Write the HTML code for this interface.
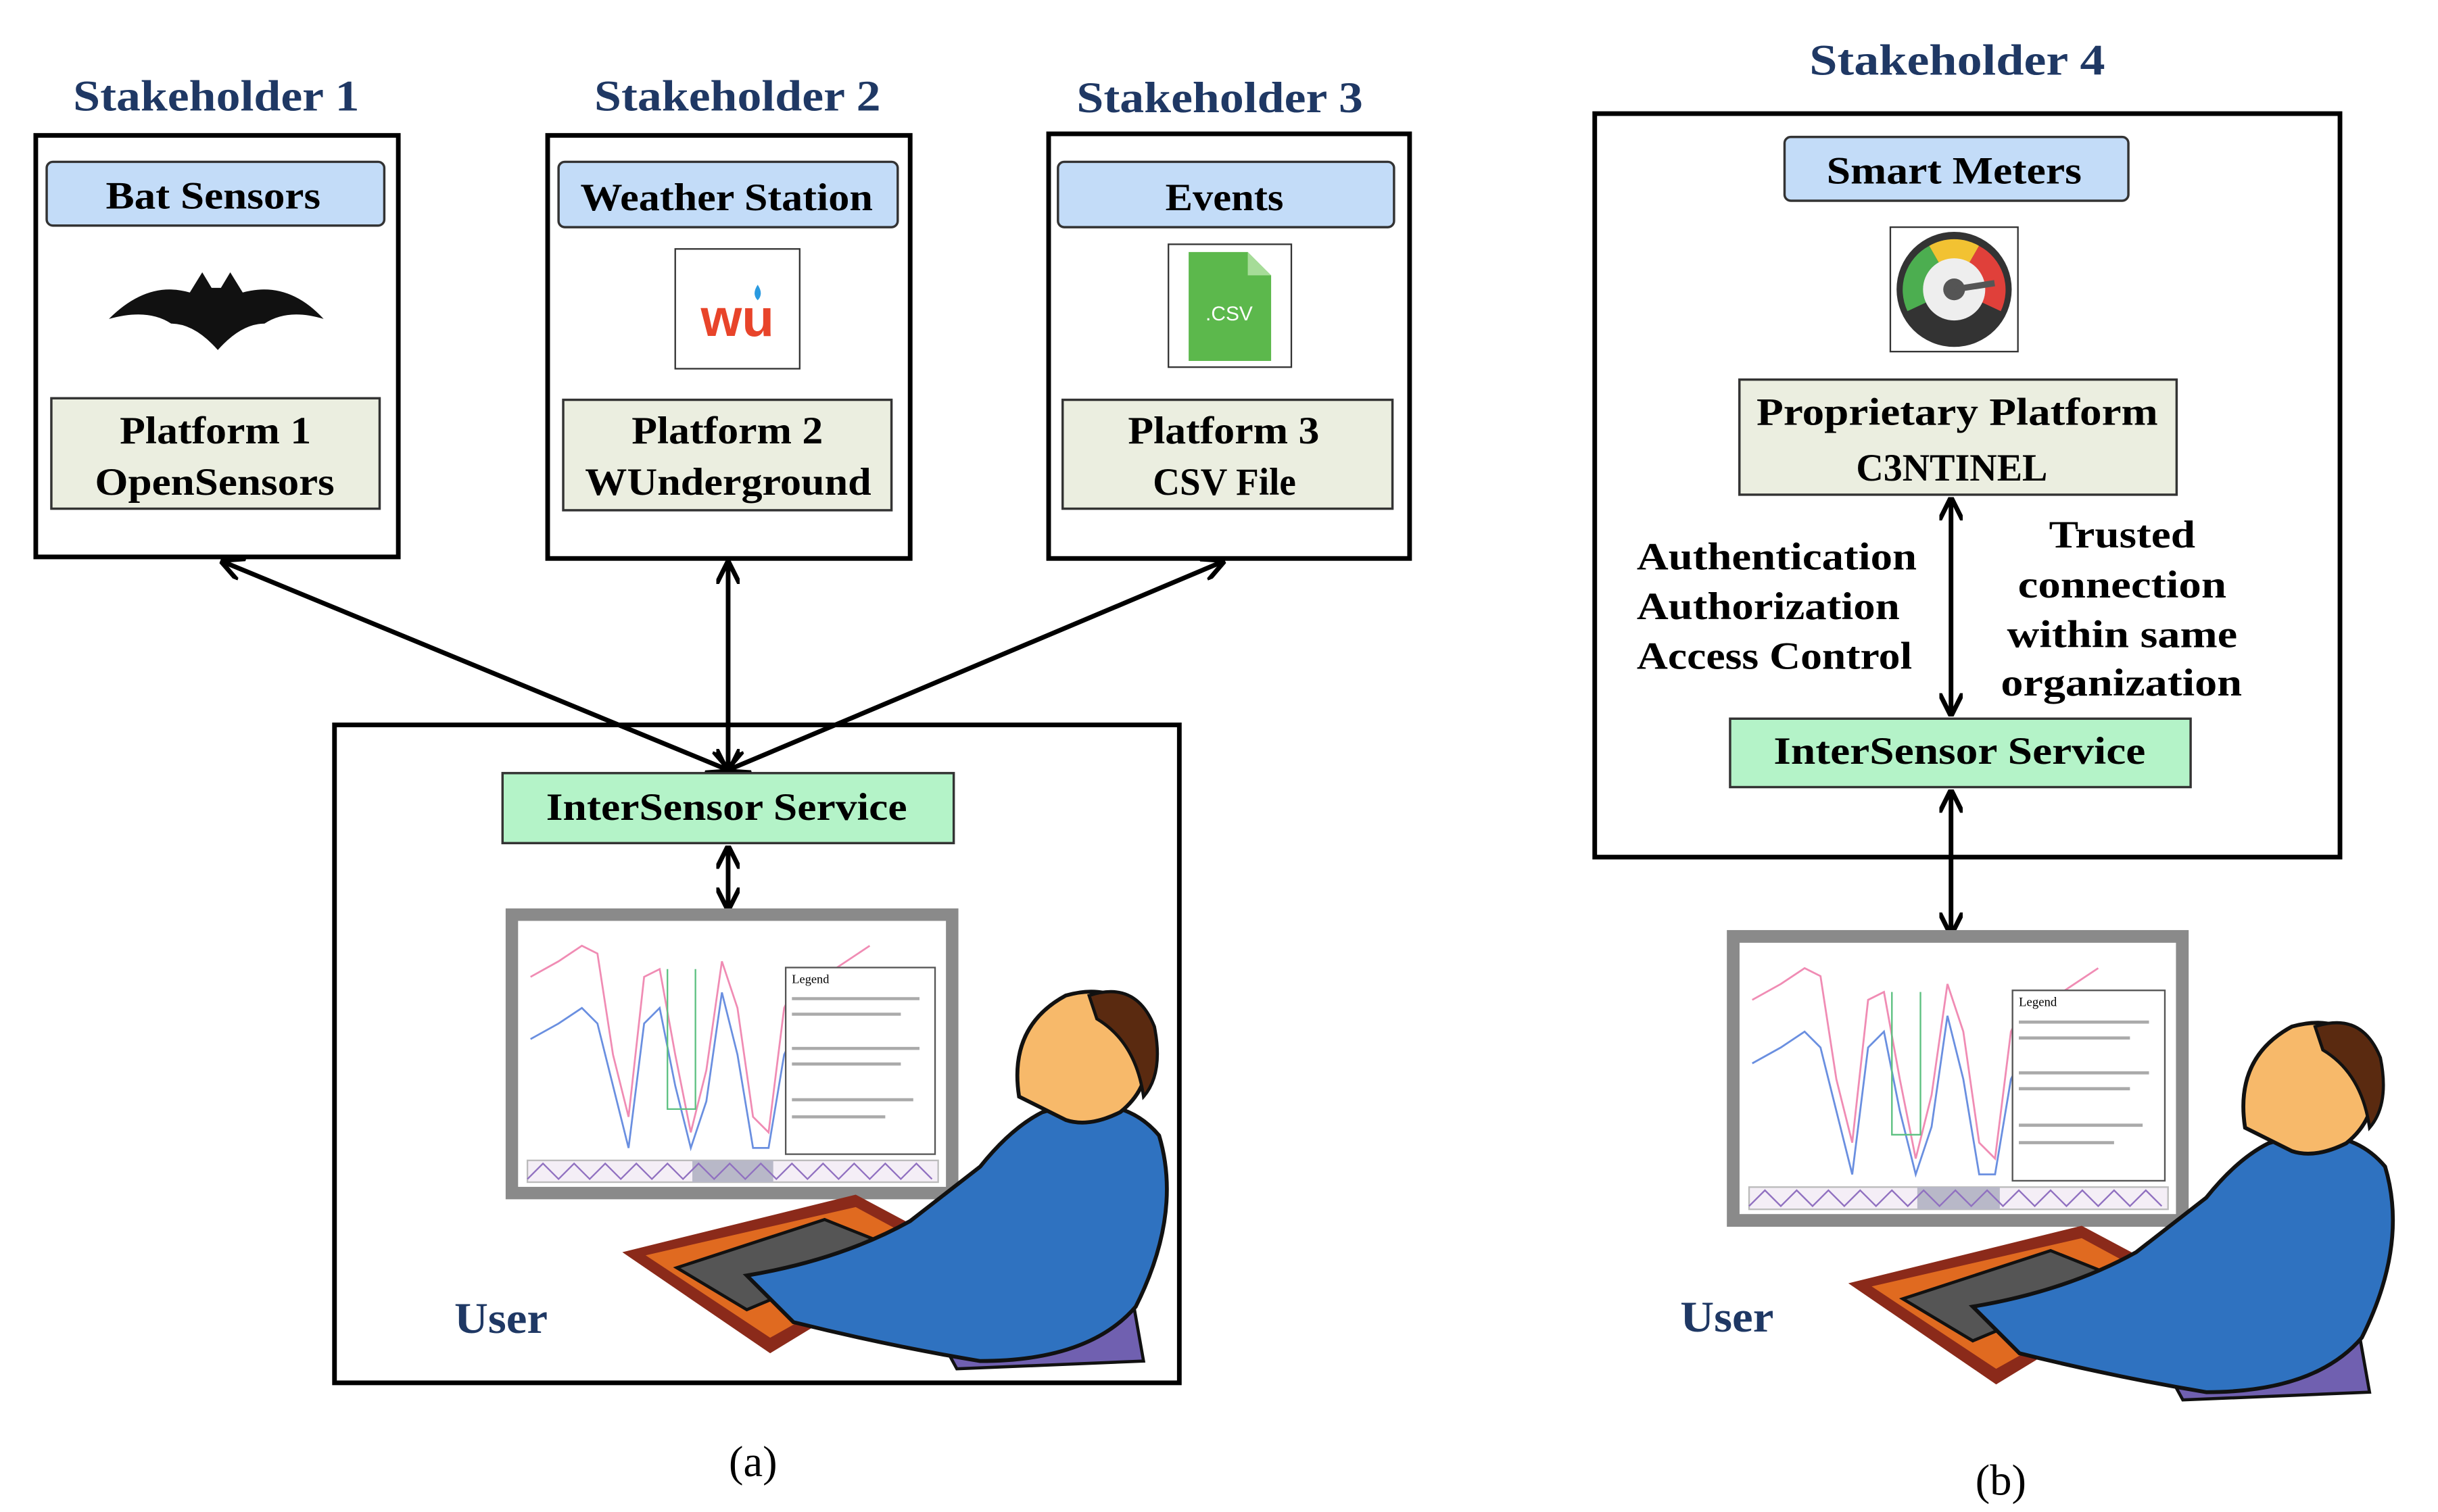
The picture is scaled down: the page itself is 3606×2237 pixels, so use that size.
<!DOCTYPE html>
<html><head><meta charset="utf-8"><style>
html,body{margin:0;padding:0;background:#fff}
svg{display:block}
text{font-family:"Liberation Serif",serif;font-weight:bold}
.h{fill:#1f3864;font-size:28px}
.t{fill:#000;font-size:25px}
</style></head><body>
<svg width="3606" height="2237" viewBox="0 0 1567 972" xmlns="http://www.w3.org/2000/svg">
<defs>
<marker id="ah" viewBox="0 0 10 10" refX="9" refY="5" markerWidth="5" markerHeight="5" orient="auto-start-reverse"><path d="M0,0 L10,5 L0,10" fill="none" stroke="#000" stroke-width="2"/></marker>
<g id="scr">
<rect x="0" y="0" width="283" height="179" fill="#fff" stroke="#8a8a8a" stroke-width="8"/>
<polyline points="12,40 30,30 45,20 55,25 65,90 75,130 85,40 95,35 105,90 115,140 125,100 135,30 145,60 155,130 165,140 175,60 185,40 200,40 215,30 230,20" fill="none" stroke="#f08cb4" stroke-width="1.2"/>
<polyline points="12,80 30,70 45,60 55,70 65,110 75,150 85,70 95,60 105,110 115,150 125,120 135,50 145,90 155,150 165,150 175,90 185,70 200,70 215,60 230,50" fill="none" stroke="#6a8fe0" stroke-width="1.2"/>
<polyline points="100,35 100,125 118,125 118,35" fill="none" stroke="#5cc080" stroke-width="1"/>
<rect x="176" y="34" width="96" height="120" fill="#fff" stroke="#555" stroke-width="1"/>
<text x="180" y="44" style="font-size:8px;font-weight:normal">Legend</text>
<g stroke="#aaa" stroke-width="2"><line x1="180" y1="54" x2="262" y2="54"/><line x1="180" y1="64" x2="250" y2="64"/><line x1="180" y1="86" x2="262" y2="86"/><line x1="180" y1="96" x2="250" y2="96"/><line x1="180" y1="119" x2="258" y2="119"/><line x1="180" y1="130" x2="240" y2="130"/></g>
<rect x="10" y="158" width="264" height="14" fill="#f4eef6" stroke="#bbb"/>
<rect x="116" y="158" width="52" height="14" fill="#b8b8c8"/>
<polyline points="10,170 20,160 30,170 40,160 50,170 60,160 70,170 80,160 90,170 100,160 110,170 120,160 130,170 140,160 150,170 160,160 170,170 180,160 190,170 200,160 210,170 220,160 230,170 240,160 250,170 260,160 270,170" fill="none" stroke="#9070c0" stroke-width="1"/>
</g>
<g id="man">
<path d="M0,25 L150,-12 L210,20 L95,90 Z" fill="#8b2a1a"/>
<path d="M15,27 L150,-4 L198,22 L95,80 Z" fill="#e06a20"/>
<path d="M35,35 L130,4 L175,22 L80,62 Z" fill="#555" stroke="#111" stroke-width="2"/>
<path d="M185,45 L205,20 L320,10 L335,95 L215,100 Z" fill="#7060b0" stroke="#111" stroke-width="2"/>
<path d="M80,40 Q140,30 185,5 L230,-30 Q250,-55 270,-65 Q320,-80 345,-50 Q360,0 330,60 Q300,95 230,95 Q170,85 110,70 Z" fill="#2f72c0" stroke="#111" stroke-width="2.5"/>
<path d="M255,-75 Q248,-120 285,-140 Q320,-150 335,-120 Q345,-85 320,-65 Q300,-55 285,-60 Z" fill="#f7b96a" stroke="#111" stroke-width="2.5"/>
<path d="M300,-140 Q330,-150 342,-120 Q348,-90 335,-75 Q330,-110 305,-125 Z" fill="#5a2a10" stroke="#111" stroke-width="2"/>
</g>
</defs>

<text class="h" x="47" y="71" textLength="184" lengthAdjust="spacingAndGlyphs">Stakeholder 1</text>
<text class="h" x="382" y="71" textLength="184" lengthAdjust="spacingAndGlyphs">Stakeholder 2</text>
<text class="h" x="692" y="72" textLength="184" lengthAdjust="spacingAndGlyphs">Stakeholder 3</text>

<rect x="23" y="87" width="233" height="271" fill="#fff" stroke="#000" stroke-width="3"/>
<rect x="30" y="104" width="217" height="41" rx="4" fill="#c3dcf8" stroke="#333" stroke-width="1.5"/>
<text class="t" x="68" y="134" textLength="138" lengthAdjust="spacingAndGlyphs">Bat Sensors</text>
<path d="M70,205 Q95,180 122,188 L130,175 L136,185 L142,185 L148,175 L156,188 Q185,180 208,205 Q185,198 170,208 Q155,208 140,225 Q125,208 110,208 Q95,198 70,205 Z" fill="#111"/>
<rect x="33" y="256" width="211" height="71" fill="#ebeee0" stroke="#333" stroke-width="1.5"/>
<text class="t" x="77" y="285" textLength="123" lengthAdjust="spacingAndGlyphs">Platform 1</text>
<text class="t" x="61" y="318" textLength="154" lengthAdjust="spacingAndGlyphs">OpenSensors</text>

<rect x="352" y="87" width="233" height="272" fill="#fff" stroke="#000" stroke-width="3"/>
<rect x="359" y="104" width="218" height="42" rx="4" fill="#c3dcf8" stroke="#333" stroke-width="1.5"/>
<text class="t" x="373" y="135" textLength="188" lengthAdjust="spacingAndGlyphs">Weather Station</text>
<rect x="434" y="160" width="80" height="77" fill="#fff" stroke="#333" stroke-width="1"/>
<text x="474" y="216" text-anchor="middle" style="font-size:34px;fill:#e8442a;font-family:'Liberation Sans',sans-serif">wu</text>
<path d="M487,183 q4,6 0,10 q-4,-4 0,-10z" fill="#2a9ae0"/>
<rect x="362" y="257" width="211" height="71" fill="#ebeee0" stroke="#333" stroke-width="1.5"/>
<text class="t" x="406" y="285" textLength="123" lengthAdjust="spacingAndGlyphs">Platform 2</text>
<text class="t" x="376" y="318" textLength="184" lengthAdjust="spacingAndGlyphs">WUnderground</text>

<rect x="674" y="86" width="232" height="273" fill="#fff" stroke="#000" stroke-width="3"/>
<rect x="680" y="104" width="216" height="42" rx="4" fill="#c3dcf8" stroke="#333" stroke-width="1.5"/>
<text class="t" x="749" y="135" textLength="76" lengthAdjust="spacingAndGlyphs">Events</text>
<rect x="751" y="157" width="79" height="79" fill="#fff" stroke="#333" stroke-width="1"/>
<path d="M764,162 L802,162 L817,177 L817,232 L764,232 Z" fill="#5cb84c"/>
<path d="M802,162 L802,177 L817,177 Z" fill="#a6dc98"/>
<text x="790" y="206" text-anchor="middle" style="font-size:13px;fill:#fff;font-family:'Liberation Sans',sans-serif;font-weight:normal">.CSV</text>
<rect x="683" y="257" width="212" height="70" fill="#ebeee0" stroke="#333" stroke-width="1.5"/>
<text class="t" x="725" y="285" textLength="123" lengthAdjust="spacingAndGlyphs">Platform 3</text>
<text class="t" x="741" y="318" textLength="92" lengthAdjust="spacingAndGlyphs">CSV File</text>

<rect x="215" y="466" width="543" height="423" fill="#fff" stroke="#000" stroke-width="3"/>
<g stroke="#000" stroke-width="3" fill="none">
<line x1="468" y1="495" x2="143" y2="361" marker-start="url(#ah)" marker-end="url(#ah)"/>
<line x1="468" y1="495" x2="468" y2="362" marker-start="url(#ah)" marker-end="url(#ah)"/>
<line x1="468" y1="495" x2="786" y2="361" marker-start="url(#ah)" marker-end="url(#ah)"/>
<line x1="468" y1="545" x2="468" y2="584" marker-start="url(#ah)" marker-end="url(#ah)"/>
</g>
<rect x="323" y="497" width="290" height="45" fill="#b4f3c8" stroke="#333" stroke-width="1.5"/>
<text class="t" x="351" y="527" textLength="232" lengthAdjust="spacingAndGlyphs">InterSensor Service</text>
<use href="#scr" x="329" y="588"/>
<use href="#man" x="400" y="780"/>
<text class="h" x="292" y="857" textLength="60" lengthAdjust="spacingAndGlyphs">User</text>
<text x="484" y="949" text-anchor="middle" style="font-size:28px;font-weight:normal">(a)</text>

<text class="h" x="1163" y="48" textLength="190" lengthAdjust="spacingAndGlyphs">Stakeholder 4</text>
<rect x="1025" y="73" width="479" height="478" fill="#fff" stroke="#000" stroke-width="3"/>
<rect x="1147" y="88" width="221" height="41" rx="4" fill="#c3dcf8" stroke="#333" stroke-width="1.5"/>
<text class="t" x="1174" y="118" textLength="164" lengthAdjust="spacingAndGlyphs">Smart Meters</text>
<rect x="1215" y="146" width="82" height="80" fill="#fff" stroke="#333" stroke-width="1"/>
<circle cx="1256" cy="186" r="37" fill="#333"/>
<path d="M1226,200 A32,32 0 0 1 1240,158 L1256,186 Z" fill="#4cae50"/>
<path d="M1240,158 A32,32 0 0 1 1272,158 L1256,186 Z" fill="#f2c232"/>
<path d="M1272,158 A32,32 0 0 1 1286,200 L1256,186 Z" fill="#e0403a"/>
<circle cx="1256" cy="186" r="20" fill="#eee"/>
<circle cx="1256" cy="186" r="7" fill="#555"/>
<line x1="1256" y1="186" x2="1282" y2="182" stroke="#555" stroke-width="4"/>
<rect x="1118" y="244" width="281" height="74" fill="#ebeee0" stroke="#333" stroke-width="1.5"/>
<text class="t" x="1129" y="273" textLength="258" lengthAdjust="spacingAndGlyphs">Proprietary Platform</text>
<text class="t" x="1193" y="309" textLength="123" lengthAdjust="spacingAndGlyphs">C3NTINEL</text>
<g stroke="#000" stroke-width="3" fill="none">
<line x1="1254" y1="321" x2="1254" y2="459" marker-start="url(#ah)" marker-end="url(#ah)"/>
<line x1="1254" y1="509" x2="1254" y2="600" marker-start="url(#ah)" marker-end="url(#ah)"/>
</g>
<text class="t" x="1052" y="366" textLength="180" lengthAdjust="spacingAndGlyphs">Authentication</text>
<text class="t" x="1052" y="398" textLength="169" lengthAdjust="spacingAndGlyphs">Authorization</text>
<text class="t" x="1052" y="430" textLength="177" lengthAdjust="spacingAndGlyphs">Access Control</text>
<text class="t" x="1317" y="352" textLength="94" lengthAdjust="spacingAndGlyphs">Trusted</text>
<text class="t" x="1297" y="384" textLength="134" lengthAdjust="spacingAndGlyphs">connection</text>
<text class="t" x="1290" y="416" textLength="148" lengthAdjust="spacingAndGlyphs">within same</text>
<text class="t" x="1286" y="447" textLength="155" lengthAdjust="spacingAndGlyphs">organization</text>
<rect x="1112" y="462" width="296" height="44" fill="#b4f3c8" stroke="#333" stroke-width="1.5"/>
<text class="t" x="1140" y="491" textLength="239" lengthAdjust="spacingAndGlyphs">InterSensor Service</text>
<use href="#scr" transform="translate(1114,602) scale(1.02)"/>
<use href="#man" x="1188" y="800"/>
<text class="h" x="1080" y="856" textLength="60" lengthAdjust="spacingAndGlyphs">User</text>
<text x="1286" y="961" text-anchor="middle" style="font-size:28px;font-weight:normal">(b)</text>
</svg>
</body></html>
